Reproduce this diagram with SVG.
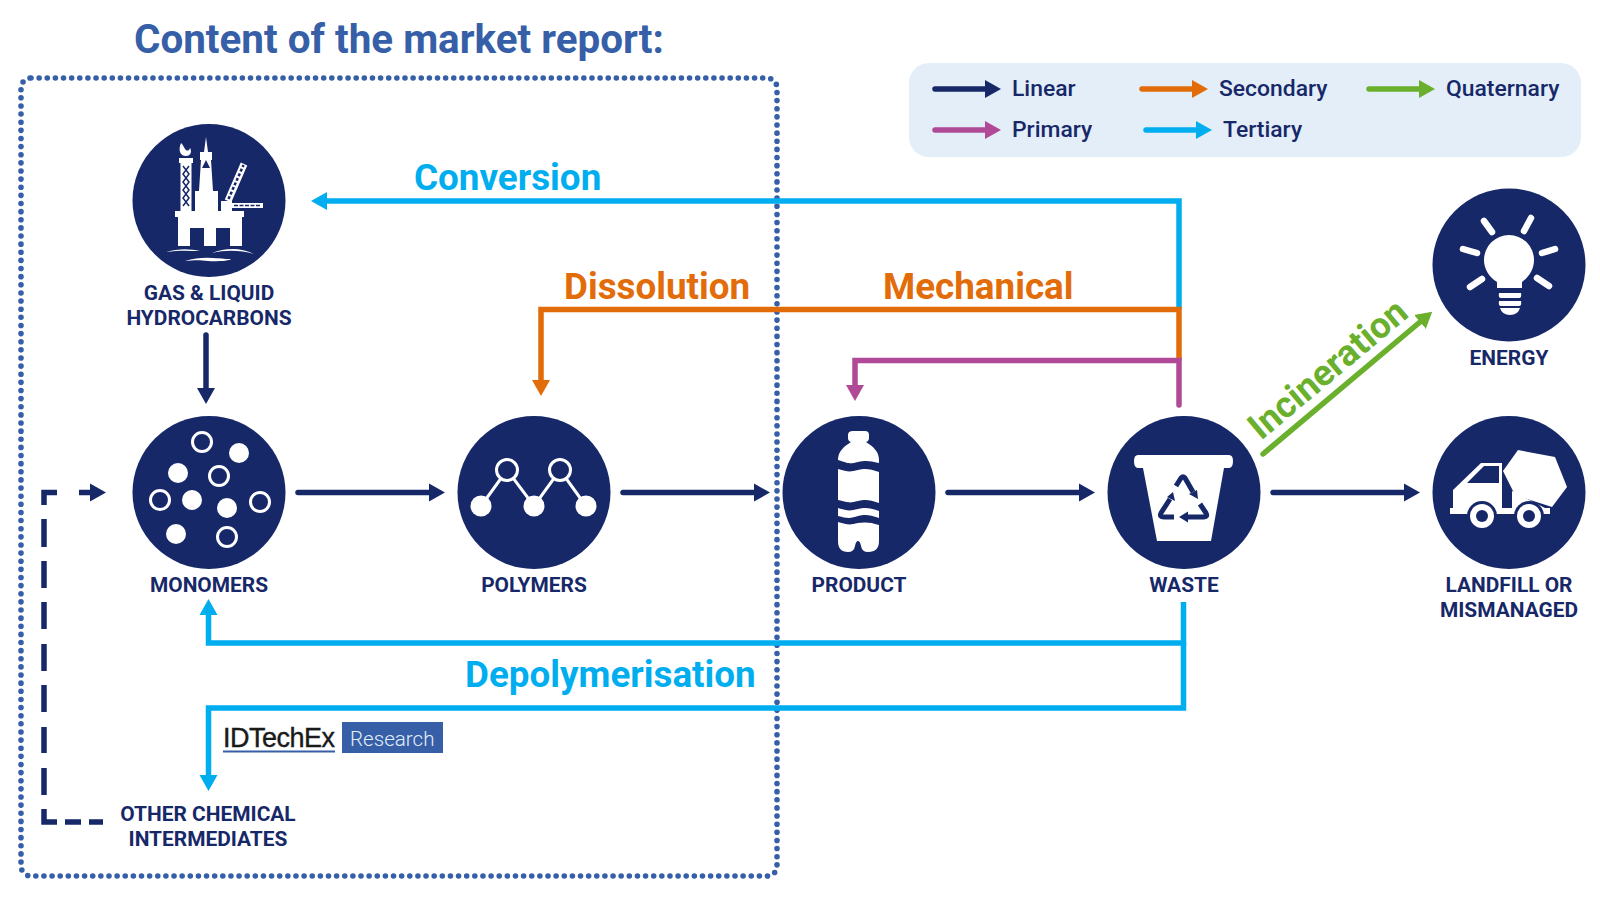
<svg xmlns="http://www.w3.org/2000/svg" width="1600" height="900" viewBox="0 0 1600 900">
<defs>
<style>
text{font-family:Roboto,"Liberation Sans",sans-serif}
.lbl{font-size:20.9px;font-weight:700;fill:#172869;text-anchor:middle}
.leg{font-size:22.9px;font-weight:500;fill:#172869}
.big{font-size:36.8px;font-weight:700}
.c{fill:#172869}
.w{fill:#fff}
.ring{fill:none;stroke:#fff;stroke-width:3}
.ln{fill:none;stroke-width:5.5;stroke-linejoin:miter}
.nv{stroke:#172869}.or{stroke:#e36c0a}.mg{stroke:#b04a97}.bl{stroke:#00aeef}.gr{stroke:#6ab02d}
.ray{stroke:#fff;stroke-width:6.5;stroke-linecap:round;fill:none}
</style>
<marker id="aN" markerUnits="userSpaceOnUse" markerWidth="20" markerHeight="20" viewBox="0 -10 20 20" refX="0" refY="0" orient="auto"><path d="M0-9L16 0L0 9z" fill="#172869"/></marker>
<marker id="aO" markerUnits="userSpaceOnUse" markerWidth="20" markerHeight="20" viewBox="0 -10 20 20" refX="0" refY="0" orient="auto"><path d="M0-9L16 0L0 9z" fill="#e36c0a"/></marker>
<marker id="aM" markerUnits="userSpaceOnUse" markerWidth="20" markerHeight="20" viewBox="0 -10 20 20" refX="0" refY="0" orient="auto"><path d="M0-9L16 0L0 9z" fill="#b04a97"/></marker>
<marker id="aB" markerUnits="userSpaceOnUse" markerWidth="20" markerHeight="20" viewBox="0 -10 20 20" refX="0" refY="0" orient="auto"><path d="M0-9L16 0L0 9z" fill="#00aeef"/></marker>
<marker id="aG" markerUnits="userSpaceOnUse" markerWidth="20" markerHeight="20" viewBox="0 -10 20 20" refX="0" refY="0" orient="auto"><path d="M0-9L16 0L0 9z" fill="#6ab02d"/></marker>
</defs>
<rect width="1600" height="900" fill="#fff"/>
<text id="title" x="134" y="53" fill="#365fa8" style="font-size:40.4px;font-weight:700">Content of the market report:</text>
<rect id="scope" x="21" y="78" width="756" height="798" rx="10" fill="none" stroke="#365fa8" stroke-width="5.6" stroke-linecap="round" stroke-dasharray="0 8.13"/>
<g id="legend">
<rect x="909" y="63" width="672" height="94" rx="20" fill="#e3eef8"/>
<path class="ln nv" d="M935 89H985" stroke-linecap="round" marker-end="url(#aN)"/>
<text class="leg" x="1012" y="96">Linear</text>
<path class="ln or" d="M1142 89H1192" stroke-linecap="round" marker-end="url(#aO)"/>
<text class="leg" x="1219" y="96">Secondary</text>
<path class="ln gr" d="M1369 89H1419" stroke-linecap="round" marker-end="url(#aG)"/>
<text class="leg" x="1446" y="96">Quaternary</text>
<path class="ln mg" d="M935 130H985" stroke-linecap="round" marker-end="url(#aM)"/>
<text class="leg" x="1012" y="137">Primary</text>
<path class="ln bl" d="M1146 130H1196" stroke-linecap="round" marker-end="url(#aB)"/>
<text class="leg" x="1223" y="137">Tertiary</text>
</g>
<g id="connectors">
<path class="ln bl" d="M1179 309.500V201H327" marker-end="url(#aB)"/>
<path class="ln or" d="M1179 360.500V309.500H541V380" marker-end="url(#aO)"/>
<path class="ln mg" d="M1179 405V360.500H855V385" stroke-linecap="round" marker-end="url(#aM)"/>
<path class="ln gr" d="M1263 454L1420 322" stroke-linecap="round" marker-end="url(#aG)"/>
<path class="ln nv" d="M206 335V388" stroke-linecap="round" marker-end="url(#aN)"/>
<path class="ln nv" d="M298 492.500H429" stroke-linecap="round" marker-end="url(#aN)"/>
<path class="ln nv" d="M623 492.500H754" stroke-linecap="round" marker-end="url(#aN)"/>
<path class="ln nv" d="M948 492.500H1079" stroke-linecap="round" marker-end="url(#aN)"/>
<path class="ln nv" d="M1273 492.500H1404" stroke-linecap="round" marker-end="url(#aN)"/>
<path class="ln bl" d="M1183.500 602V643H208.500V615" marker-end="url(#aB)"/>
<path class="ln bl" d="M1183.500 643V708H208.500V775" marker-end="url(#aB)"/>
<path class="ln nv" d="M57 492.500H44V505M44 519V547M44 561V588M44 602V629M44 644V671M44 685V712M44 727V753M44 768V795M44 809V822H57M65 822H81M89 822H103M79 492.500H90" marker-end="url(#aN)"/>
</g>
<g id="connector-labels">
<text class="big" x="414" y="190" fill="#00aeef">Conversion</text>
<text class="big" x="564" y="299" fill="#e36c0a">Dissolution</text>
<text class="big" x="883" y="299" fill="#e36c0a">Mechanical</text>
<text class="big" x="465" y="687" fill="#00aeef">Depolymerisation</text>
<text class="big" transform="translate(1261 441) rotate(-40)" style="font-size:36.4px" fill="#6ab02d">Incineration</text>
</g>
<g id="hydrocarbons">
<circle class="c" cx="209" cy="200.500" r="76.500"/>
<g class="w">
<path d="M175 211H244V217H242V246H230V228H216V246H204V228H190V246H178V217H175z"/>
<path d="M195 211V191H199L201 160H200V152H204L206 137L208 152H212V160H211L213 191H218V211z"/>
<path d="M179 158H193V163H191.500V211H180.500V163H179z"/>
<path d="M221 211V201H232V203H263V208H232V211z"/>
<path d="M181 143C178 150 180 156 186 156C191 156 192 151 190 148C189 151 187 151 186 150C184 148 184 146 181 143z"/>
<path d="M166 252C180 248 190 249 200 251C190 251 180 250 166 252zM212 253C225 248 240 247 254 254C240 250 225 250 212 253zM185 261C200 256 215 258 226 259C240 259 220 262 208 261C200 260 195 260 185 261z"/>
</g>
<path d="M228 201L244 164" stroke="#fff" stroke-width="7" fill="none"/>
<path d="M228.500 199L243.500 165" stroke="#172869" stroke-width="2.500" stroke-dasharray="3 2" fill="none"/>
<g stroke="#172869" stroke-width="1.500" fill="none"><path d="M183 166L189 174L183 182L189 190L183 198L189 206M189 166L183 174L189 182L183 190L189 198L183 206"/></g>
<path d="M206 160L210 168H202z" class="c"/><path d="M234 205.500H260" stroke="#172869" stroke-width="1.500" stroke-dasharray="4 1.500"/>
<text class="lbl" x="209" y="300">GAS &amp; LIQUID</text>
<text class="lbl" x="209" y="325">HYDROCARBONS</text>
</g>
<g id="monomers">
<circle class="c" cx="209" cy="492.500" r="76.500"/>
<circle class="ring" cx="202" cy="442" r="9.500"/><circle class="ring" cx="219" cy="476" r="9.500"/><circle class="ring" cx="160" cy="500" r="9.500"/><circle class="ring" cx="260" cy="502" r="9.500"/><circle class="ring" cx="227" cy="537" r="9.500"/>
<circle class="w" cx="239" cy="453" r="10"/><circle class="w" cx="178" cy="473" r="10"/><circle class="w" cx="192" cy="500" r="10"/><circle class="w" cx="227" cy="508" r="10"/><circle class="w" cx="176" cy="534" r="10"/>
<text class="lbl" x="209" y="592">MONOMERS</text>
</g>
<g id="polymers">
<circle class="c" cx="534" cy="492.500" r="76.500"/>
<path d="M481 506L507 470L534 506L560 470L586 506" fill="none" stroke="#fff" stroke-width="3"/>
<circle class="c" cx="507" cy="470" r="10.500" style="stroke:#fff;stroke-width:3"/><circle class="c" cx="560" cy="470" r="10.500" style="stroke:#fff;stroke-width:3"/>
<circle class="w" cx="481" cy="506" r="10.500"/><circle class="w" cx="534" cy="506" r="10.500"/><circle class="w" cx="586" cy="506" r="10.500"/>
<text class="lbl" x="534" y="592">POLYMERS</text>
</g>
<g id="product">
<circle class="c" cx="859" cy="492.500" r="76.500"/>
<path class="w" d="M853 431H865Q869 431 869 435V438Q869 441 866 442C874 447 879 452 879 460V541Q879 552 868 552Q862 552 861 546Q860 541 858 541Q856 541 855 546Q854 552 848 552Q838 552 838 541V460C838 452 843 447 851 442Q848 441 848 438V435Q848 431 853 431z"/>
<path class="c" d="M838 460C850 464 850 464 858 462C866 460 870 461 879 463V472C870 469 866 468 858 470C850 472 848 472 838 469zM838 500C850 503 850 503 858 501C866 499 870 500 879 503V511C870 508 866 507 858 509C850 511 848 511 838 508zM838 516C848 519 852 518 858 516C866 514 870 515 879 518V525C870 522 866 522 858 523C850 525 848 525 838 522z"/>
<text class="lbl" x="859" y="592">PRODUCT</text>
</g>
<g id="waste">
<circle class="c" cx="1184" cy="492.500" r="76.500"/>
<path class="w" d="M1138 455H1229Q1233 455 1233 461Q1233 468 1229 468H1224L1211 541H1157L1143 468H1138Q1134 468 1134 461Q1134 455 1138 455z"/>
<g fill="none" stroke="#172869" stroke-width="5" stroke-linejoin="round"><path d="M1176 486L1181 478Q1183 476 1185 478L1193 492"/><path d="M1170 499L1161 513Q1159 517 1164 517H1174"/><path d="M1186 517H1204Q1208 517 1206 513L1200 504"/></g>
<path class="c" d="M1189 494L1197 490L1198 499zM1173 492L1167 497L1175 501zM1188 511.500V522.500L1179 517z"/>
<text class="lbl" x="1184" y="592">WASTE</text>
</g>
<g id="energy">
<circle class="c" cx="1509" cy="265" r="76.500"/>
<path class="w" d="M1497 288V282C1489 277 1484 269 1484 260A25 25 0 0 1 1534 260C1534 269 1529 277 1522 282V288z"/>
<path class="w" d="M1499 293H1521Q1522 298 1519 298H1501Q1498 298 1499 293zM1499 301H1521Q1522 306 1519 306H1501Q1498 306 1499 301zM1500 308H1520Q1518 315 1510 315Q1502 315 1500 308z"/>
<path class="ray" d="M1484 221L1492 232M1531 218L1524 231M1463 249L1477 253M1555 249L1542 253M1470 287L1482 279M1549 286L1537 278"/>
<text class="lbl" x="1509" y="365">ENERGY</text>
</g>
<g id="landfill">
<circle class="c" cx="1509" cy="492.500" r="76.500"/>
<path class="w" d="M1518 450L1555 457L1567 487L1552 507L1515 495L1503 471z"/>
<path class="w" d="M1453 490L1481 463H1502V508H1453z"/>
<path class="c" d="M1467 483L1484 466H1499V483z"/>
<path class="w" d="M1512 491L1545 508H1512zM1450 508H1550V514H1450z"/>
<circle class="c" cx="1482" cy="516" r="15"/><circle class="c" cx="1529" cy="516" r="15"/>
<circle class="w" cx="1482" cy="516" r="12"/><circle class="w" cx="1529" cy="516" r="12"/>
<circle class="c" cx="1482" cy="516" r="6"/><circle class="c" cx="1529" cy="516" r="6"/>
<text class="lbl" x="1509" y="592">LANDFILL OR</text>
<text class="lbl" x="1509" y="617">MISMANAGED</text>
</g>
<g id="intermediates">
<text class="lbl" x="208" y="821">OTHER CHEMICAL</text>
<text class="lbl" x="208" y="846">INTERMEDIATES</text>
</g>
<g id="logo">
<text x="223" y="746.500" style="font-family:'Liberation Sans',sans-serif;font-size:27px;letter-spacing:-.5px" fill="#1a1a1a" stroke="#1a1a1a" stroke-width=".4">IDTechEx</text>
<rect x="223" y="750.500" width="112" height="2" fill="#365fa8"/>
<rect x="342" y="722" width="101" height="31" fill="#365fa8"/>
<text x="350" y="746" style="font-size:20.6px;font-weight:300" fill="#e3eef8">Research</text>
</g>
</svg>
